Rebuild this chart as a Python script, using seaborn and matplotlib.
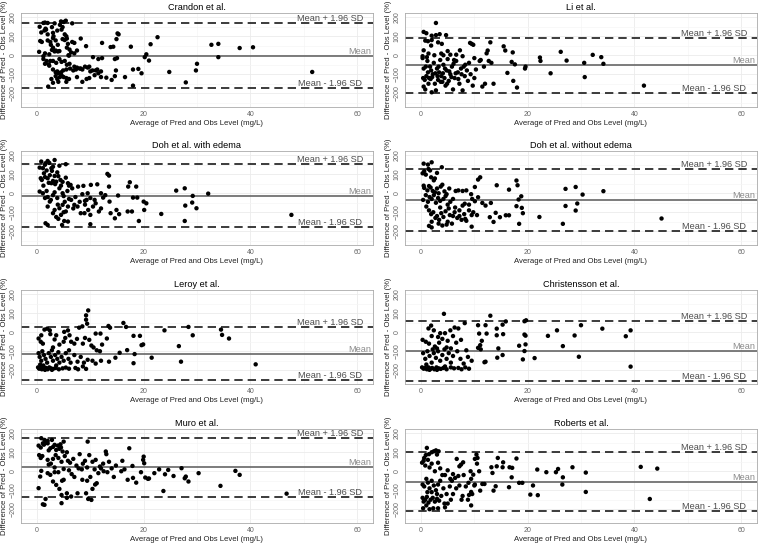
import numpy as np
import pandas as pd
import seaborn as sns
import matplotlib.pyplot as plt

# panel titles and limits of agreement
titles = ["Crandon et al.", "Li et al.", "Doh et al. with edema", "Doh et al. without edema",
          "Leroy et al.", "Christensson et al.", "Muro et al.", "Roberts et al."]
upper_loa = [170, 92, 154, 126, 28, 58, 177, 102]
mean_diff = [-2, -53, -12, -37, -112, -100, 23, -54]
lower_loa = [-174, -198, -179, -200, -249, -258, -135, -210]

# (average level mg/L, difference %)
crandon = [
    (1.2, 170), (1.5, 172), (2.0, 170), (3.3, 168), (4.5, 178), (5.4, 182), (5.0, 175), (6.6, 168), (0.5, 150), (1.6, 140),
    (4.3, 160), (4.8, 148), (2.8, 148), (0.8, 120), (1.4, 130), (2.0, 110), (3.0, 118), (3.8, 130), (4.6, 135), (5.2, 110),
    (5.5, 100), (3.1, 100), (1.7, 135), (0.6, 75), (2.0, 78), (2.5, 70), (3.5, 78), (3.9, 55), (4.8, 85), (5.2, 80),
    (5.6, 88), (6.6, 70), (7.0, 65), (8.2, 88), (3.0, 90), (5.8, 60), (2.6, 55), (0.9, 70), (0.4, 18), (1.5, 10),
    (2.3, 5), (3.0, 40), (3.5, 25), (3.9, 20), (4.2, 22), (5.6, 40), (6.1, 30), (6.4, 15), (7.0, 10), (7.5, 25),
    (9.2, 48), (2.8, 28), (3.3, 20), (5.9, 0), (1.2, -5), (6.0, -2), (1.2, -20), (1.8, -30), (2.5, -30), (3.0, -30),
    (4.2, -20), (4.6, -35), (5.2, -30), (5.6, -50), (6.1, -45), (3.6, -40), (1.5, -45), (2.2, -48), (10.5, -10), (11.5, -20),
    (12.2, -15), (2.3, -55), (3.0, -75), (3.8, -85), (4.5, -90), (4.9, -80), (5.5, -75), (6.2, -70), (7.0, -60), (7.5, -65),
    (8.0, -70), (8.5, -75), (9.0, -60), (9.5, -65), (10.0, -85), (10.4, -80), (11.0, -80), (11.5, -95), (12.0, -85), (6.8, -80),
    (7.3, -75), (8.2, -70), (9.8, -60), (11.3, -75), (3.5, -90), (4.0, -95), (3.5, -110), (3.8, -125), (4.0, -140), (4.3, -115),
    (4.6, -105), (5.0, -115), (5.5, -120), (6.0, -125), (7.5, -115), (8.5, -140), (9.3, -125), (9.8, -120), (10.8, -105), (12.0, -115),
    (13.0, -118), (14.0, -130), (16.5, -115), (5.5, -140), (3.0, -145), (2.7, -125), (2.1, -165), (18.0, -160), (12.2, 65), (13.8, 43),
    (14.3, 45), (14.6, -20), (15.0, -15), (15.1, 115), (15.3, 110), (14.9, 85), (14.8, -80), (14.6, -110), (17.6, 45), (18.0, -75),
    (19.0, -72), (19.6, -95), (20.2, -10), (20.5, 5), (21.0, -28), (21.3, 58), (22.6, 95), (24.8, -88), (27.9, -143), (29.8, -80),
    (30.0, -45), (32.7, 55), (34.0, 60), (34.0, -10), (38.0, 38), (40.5, 42), (51.6, -88),
]

li = [
    (0.3, -15), (0.5, -70), (0.7, -130), (0.5, -165), (0.8, -180), (1.0, -110), (1.2, -30), (1.3, -90), (1.5, -120), (1.7, -60),
    (1.8, -125), (2.0, -195), (2.2, -100), (2.4, -40), (2.6, -150), (2.8, -185), (3.0, -70), (3.2, -130), (3.4, -90), (3.6, -25),
    (3.8, -110), (4.0, -140), (4.2, -50), (4.4, -120), (4.6, -160), (4.8, -80), (5.0, -20), (5.2, -135), (5.5, -100), (5.8, -60),
    (6.0, -180), (6.3, -120), (6.6, -30), (6.9, -90), (7.2, -150), (7.5, -70), (7.8, -185), (8.2, -110), (8.6, -80), (9.0, -40),
    (9.3, -100), (9.7, -160), (10.0, -120), (10.3, -75), (10.0, -15), (9.5, 60), (9.8, 55), (9.2, 65), (11.5, -165), (11.8, -60),
    (12.0, -150), (12.3, 10), (12.5, 25), (12.7, -30), (13.0, 68), (13.2, -40), (13.6, -150), (11.0, -30), (11.2, -25), (15.5, 47),
    (15.8, 25), (16.2, -93), (17.0, -35), (17.2, 15), (17.3, -135), (17.6, -48), (18.0, -170), (19.5, -70), (19.6, -60), (22.3, -12),
    (22.4, -30), (24.3, -95), (26.2, 18), (27.3, -28), (30.6, -40), (30.7, -115), (32.2, 2), (33.8, -10), (34.2, -45), (41.8, -160),
    (2.8, 170), (0.5, 123), (1.0, 116), (2.8, 106), (3.5, 111), (4.7, 106), (2.0, 103), (0.8, 77), (1.3, 74), (2.0, 80),
    (3.2, 68), (3.9, 60), (1.9, 51), (0.5, 26), (1.4, 9), (3.8, 9), (5.0, 22), (5.5, 3), (6.6, 3), (7.3, 26),
    (0.3, -5), (1.1, -10), (2.5, 0), (4.2, 0), (6.2, -25), (7.8, -5), (8.3, -50), (0.4, -120), (0.9, -60), (1.4, -150),
    (1.9, -80), (2.1, -115), (2.7, -95), (3.1, -110), (3.3, -60), (3.7, -140), (4.1, -95), (4.5, -70), (4.9, -150), (5.3, -85),
    (5.7, -115), (6.1, -45), (6.5, -95), (7.0, -125), (7.6, -100), (8.0, -60), (8.8, -135),
]

doh_edema = [
    (0.8, 167), (1.6, 158), (2.0, 170), (3.3, 175), (4.2, 145), (5.4, 153), (0.5, 135), (1.1, 132), (2.7, 132), (1.3, 105),
    (2.8, 118), (3.3, 91), (0.7, 79), (0.9, 70), (2.0, 79), (5.4, 82), (4.4, 70), (3.6, 61), (2.7, 53), (5.8, 53),
    (6.3, 44), (7.7, 35), (8.7, 39), (10.1, 44), (11.3, 47), (13.2, 102), (13.5, 93), (13.5, 35), (17.1, 35), (17.4, 58),
    (18.6, 35), (1.5, 150), (2.3, 160), (3.0, 140), (1.8, 120), (2.4, 95), (3.8, 110), (4.0, 90), (1.5, 85), (3.0, 65),
    (4.8, 60), (2.2, 55), (3.4, 48), (4.5, 40), (6.0, 40), (1.2, 40), (0.5, 9), (1.1, 0), (1.8, 12), (3.3, 5),
    (4.2, 26), (4.8, 0), (5.7, 12), (6.6, 26), (8.5, -5), (9.5, 0), (12.0, 0), (12.4, -23), (15.2, -12), (18.0, -23),
    (18.8, -23), (20.0, -44), (20.5, -53), (26.1, 14), (27.7, 26), (29.2, -14), (29.1, -49), (27.8, -65), (29.9, -79), (32.1, -2),
    (23.3, -109), (47.7, -114), (2.0, -20), (3.0, -10), (3.8, -25), (5.0, -15), (6.0, -30), (7.2, -20), (8.0, -45), (9.0, -40),
    (10.0, -25), (10.8, -35), (12.8, -10), (1.5, -25), (2.6, -35), (2.4, -44), (2.0, -70), (3.0, -105), (3.3, -88), (4.2, -79),
    (4.5, -114), (4.8, -61), (5.4, -96), (5.8, -70), (6.4, -35), (7.0, -61), (7.6, -70), (8.2, -105), (8.9, -105), (9.3, -35),
    (9.6, -88), (10.0, -114), (11.0, -53), (11.6, -96), (13.6, -44), (13.8, -105), (14.6, -132), (14.9, -88), (15.4, -110), (17.0, -96),
    (17.8, -96), (19.1, -146), (20.1, -88), (3.6, -125), (4.0, -135), (5.0, -100), (6.8, -80), (9.0, -60), (10.5, -70), (12.0, -80),
    (3.9, -60), (5.2, -45), (1.6, -158), (2.0, -167), (4.7, -167), (5.1, -146), (5.8, -149), (10.0, -163), (27.7, -146),
]

doh_no_edema = [
    (0.5, 156), (1.3, 151), (2.0, 163), (0.6, 116), (0.9, 98), (1.4, 128), (1.7, 120), (3.0, 107), (3.9, 137), (1.9, 84),
    (2.4, 68), (0.3, 105), (2.6, 78), (0.5, 40), (0.6, 28), (1.2, 15), (1.5, 38), (1.8, 30), (2.2, 12), (2.6, 5),
    (3.0, 25), (3.3, 0), (3.7, 35), (4.0, 45), (4.4, 10), (4.8, -5), (5.3, 25), (6.5, 12), (7.0, 15), (7.8, 12),
    (8.5, 15), (10.1, 33), (9.4, -5), (0.4, -35), (0.9, -10), (1.3, -45), (1.6, -20), (2.0, -30), (2.4, -10), (2.8, -50),
    (3.2, -25), (3.6, -40), (4.2, -30), (4.6, -15), (5.0, -60), (5.5, -45), (6.0, -30), (6.4, -75), (7.2, -90), (7.8, -65),
    (8.2, -55), (9.0, -60), (9.6, -30), (10.1, -42), (10.7, -21), (11.5, -51), (12.1, -65), (13.1, -51), (12.9, -126), (13.6, -151),
    (14.0, -103), (14.8, -126), (15.9, -116), (16.5, -116), (1.0, -70), (1.5, -90), (1.9, -110), (2.3, -100), (2.7, -130), (3.0, -120),
    (3.4, -140), (3.8, -105), (4.2, -125), (4.6, -95), (5.0, -150), (5.4, -115), (5.8, -160), (6.3, -100), (6.8, -130), (7.2, -120),
    (7.6, -140), (8.1, -110), (8.5, -145), (9.0, -90), (9.5, -115), (9.8, -100), (10.5, -115), (3.3, -160), (4.0, -170), (4.8, -165),
    (2.0, -150), (8.3, -135), (6.0, -120), (5.2, -80), (3.6, -75), (1.5, -172), (2.0, -180), (9.5, -176), (11.1, 84), (10.7, 72),
    (14.2, 42), (16.5, 19), (17.9, 67), (18.1, 42), (18.3, -33), (18.8, -16), (17.9, -68), (18.9, -77), (19.1, -105), (18.4, -161),
    (22.2, -125), (26.6, -161), (27.1, 23), (27.1, -67), (29.0, 33), (29.3, -54), (29.0, -91), (30.3, -7), (34.2, 11), (45.1, -133),
]

leroy = [
    (9.6, 115), (9.2, 89), (9.4, 45), (9.2, 66), (7.9, 24), (8.5, 31), (11.0, -7), (11.9, -7), (13.1, -33), (13.4, 33),
    (13.7, 24), (16.2, 49), (16.7, 28), (18.1, -19), (19.3, -19), (19.9, -64), (19.6, -68), (16.9, -94), (15.5, -108), (14.7, -134),
    (13.5, -155), (18.3, -115), (18.1, -163), (21.5, -134), (23.9, 10), (26.6, -73), (27.0, -155), (28.4, 28), (29.2, -16), (34.5, 14),
    (34.7, -14), (36.0, -33), (41.0, -169), (0.3, -33), (0.7, -50), (1.1, -60), (1.4, 14), (1.9, 19), (2.4, 10), (0.8, -16),
    (2.5, -10), (3.3, -38), (3.6, -16), (5.1, 2), (5.8, 10), (6.1, -16), (5.0, -50), (6.4, -50), (7.0, -60), (9.8, -40),
    (10.2, -70), (10.6, -80), (11.2, -95), (11.8, -100), (8.6, -60), (9.0, -30), (12.2, -65), (3.0, -80), (4.2, -65), (5.3, -30),
    (7.5, -35), (0.3, -110), (0.5, -130), (0.8, -150), (1.0, -100), (1.3, -120), (1.6, -140), (1.9, -160), (2.2, -110), (2.6, -130),
    (3.0, -150), (3.4, -120), (3.8, -140), (4.2, -160), (4.6, -130), (5.0, -150), (5.4, -110), (5.9, -140), (6.3, -160), (7.0, -120),
    (7.6, -155), (8.2, -130), (8.8, -160), (9.5, -145), (10.4, -150), (11.0, -165), (12.0, -150), (2.8, -95), (4.0, -105), (6.0, -95),
    (0.6, -170), (1.2, -175), (3.6, -175), (0.2, -185), (0.4, -192), (0.7, -188), (0.9, -195), (1.1, -185), (1.4, -192), (1.7, -188),
    (2.0, -195), (2.3, -185), (2.6, -190), (3.0, -193), (3.5, -188), (4.1, -195), (4.8, -190), (5.4, -186), (6.0, -192), (7.2, -188),
    (7.7, -195), (8.6, -180), (9.2, -193), (1.5, -198), (2.8, -198),
]

christensson = [
    (4.3, 97), (13.0, 87), (19.7, 63), (19.4, 58), (15.9, 57), (15.3, 40), (14.2, 19), (14.2, -16), (15.4, -10), (14.5, -85),
    (14.3, -134), (15.3, -120), (12.1, 37), (12.3, -7), (10.7, 37), (10.9, -7), (11.1, -68), (11.4, -45), (10.7, -82), (11.2, -90),
    (12.1, -155), (11.9, -158), (18.4, -71), (19.4, -12), (19.6, -18), (19.6, -64), (19.4, -99), (19.1, -143), (21.3, -136), (23.8, -19),
    (25.5, 10), (26.6, -73), (28.8, -17), (29.6, -129), (30.0, 37), (34.0, 19), (38.4, -21), (39.3, 10), (39.3, -181), (8.2, 48),
    (7.0, 20), (6.3, 25), (5.5, 10), (4.5, -5), (3.6, -5), (2.4, 10), (1.9, 35), (1.4, 20), (2.0, -20), (3.2, -25),
    (4.0, -35), (5.0, -45), (6.0, -20), (7.5, -40), (0.3, -40), (0.9, -50), (1.5, -60), (2.6, -75), (3.4, -55), (4.8, -80),
    (5.6, -85), (6.6, -55), (8.5, -95), (9.5, -150), (0.4, -110), (0.8, -140), (1.2, -100), (1.6, -125), (2.0, -160), (2.4, -110),
    (2.8, -135), (3.2, -100), (3.6, -150), (4.0, -120), (4.4, -90), (4.8, -140), (5.2, -110), (5.6, -160), (6.0, -125), (6.8, -100),
    (7.4, -140), (8.0, -165), (8.8, -130), (2.2, -90), (3.0, -85), (1.0, -170), (0.2, -185), (0.5, -192), (0.8, -188), (1.1, -195),
    (1.4, -185), (1.8, -192), (2.1, -188), (2.5, -195), (2.9, -185), (3.3, -190), (3.7, -193), (4.2, -188), (4.8, -195), (5.6, -185),
    (6.2, -190), (7.0, -188), (7.6, -195), (8.3, -185), (9.0, -192), (1.6, -198), (3.0, -198), (4.5, -180),
]

muro = [
    (0.8, 174), (1.4, 165), (2.0, 160), (2.8, 165), (0.3, 135), (0.7, 125), (1.1, 147), (1.3, 140), (2.0, 147), (2.5, 121),
    (3.3, 139), (3.9, 135), (4.4, 142), (4.5, 125), (5.0, 156), (3.6, 112), (4.8, 104), (9.5, 156), (12.9, 104), (17.3, 121),
    (20.0, 77), (19.9, 60), (20.1, 42), (1.6, 150), (3.0, 128), (4.2, 118), (5.6, 100), (2.2, 110), (0.4, 85), (0.7, 70),
    (1.0, 80), (2.0, 60), (2.6, 40), (3.0, 65), (3.5, 85), (4.0, 70), (4.6, 50), (5.2, 80), (5.8, 55), (6.2, 45),
    (6.8, 65), (7.4, 30), (8.0, 90), (8.6, 40), (9.0, 55), (9.8, 85), (10.4, 50), (11.0, 60), (11.8, 25), (12.4, 40),
    (13.0, 90), (13.5, 50), (14.0, 15), (14.8, 30), (16.0, 55), (16.4, 10), (17.9, 28), (7.8, 15), (8.4, 10), (9.4, 20),
    (6.0, 5), (3.3, 20), (2.2, 35), (12.0, 15), (10.8, 10), (5.0, 12), (4.0, -5), (0.3, -89), (0.6, -28), (0.8, 2),
    (2.5, -19), (3.0, -54), (3.3, -5), (3.6, -72), (4.2, -93), (4.7, -50), (4.6, -125), (5.6, -116), (6.4, -133), (7.6, -116),
    (9.2, -116), (9.6, -146), (10.2, -151), (10.4, -93), (11.2, -63), (10.9, -70), (2.0, -10), (5.0, -45), (6.5, -15), (7.0, -30),
    (8.5, -45), (9.4, -50), (10.0, -30), (11.5, -10), (12.5, 0), (13.2, -5), (14.4, -30), (15.8, 0), (17.0, -45), (18.0, -35),
    (18.6, -60), (19.5, -5), (1.1, -174), (1.4, -177), (1.6, -146), (4.6, -168), (5.6, -140), (23.7, -104), (34.4, -77), (46.8, -118),
    (20.3, -33), (20.8, -40), (22.9, 10), (24.0, -16), (24.6, 7), (25.6, -25), (27.1, 16), (27.7, -37), (27.9, -28), (28.4, -54),
    (30.3, -10), (37.2, 2), (38.0, -19), (22.0, -10), (21.0, -38),
]

roberts = [
    (1.1, 123), (2.4, 105), (2.8, 110), (3.3, 105), (2.0, 100), (0.6, 70), (3.0, 88), (1.5, 90), (0.9, 85), (6.7, 65),
    (7.9, 47), (7.5, 35), (7.2, 26), (10.1, 65), (10.4, 88), (10.6, 70), (10.5, 40), (9.3, 0), (10.9, 0), (11.5, -67),
    (11.9, -67), (11.1, -102), (9.8, -18), (10.1, -70), (9.4, -109), (8.9, -61), (14.2, 26), (14.4, 70), (15.4, 47), (15.3, 21),
    (13.2, 21), (13.4, -9), (14.0, -79), (13.6, -102), (16.5, -84), (16.6, 21), (17.1, 18), (17.0, -32), (17.9, 67), (18.4, -61),
    (19.0, -61), (20.5, -123), (21.0, -75), (21.8, 9), (21.9, -126), (23.5, -5), (25.3, -5), (25.7, 12), (26.6, -32), (26.5, -70),
    (28.4, 21), (30.9, -7), (30.9, -109), (41.2, 23), (42.9, -146), (44.3, 14), (0.2, 45), (0.5, 55), (0.8, 30), (1.3, 60),
    (1.6, 20), (2.0, 40), (2.6, 0), (3.2, 45), (3.6, 15), (4.0, -20), (4.5, -20), (5.0, 5), (5.5, -40), (6.0, -15),
    (6.4, -35), (7.0, -25), (8.0, -20), (9.4, -40), (5.8, -50), (0.3, -70), (0.6, -80), (1.0, -40), (1.3, -60), (1.6, -90),
    (2.0, -50), (2.4, -75), (2.8, -100), (3.2, -70), (3.6, -50), (4.2, -90), (4.8, -120), (5.4, -80), (6.0, -120), (6.6, -90),
    (7.2, -75), (7.8, -130), (8.4, -80), (9.0, -125), (9.6, -120), (10.0, -75), (0.3, -140), (0.5, -160), (0.8, -150), (1.1, -135),
    (1.4, -165), (1.8, -150), (2.2, -140), (2.6, -160), (3.0, -145), (3.4, -155), (3.8, -130), (4.4, -170), (5.0, -170), (5.6, -150),
    (7.6, -150), (8.8, -150), (9.4, -180), (2.0, -110), (1.2, -110), (3.0, -120), (0.4, -195), (1.0, -180), (1.6, -200), (2.3, -195),
    (3.2, -195), (4.5, -190),
]

panels = [crandon, li, doh_edema, doh_no_edema, leroy, christensson, muro, roberts]

sns.set_style("white")
plt.rcParams['font.family'] = ['Liberation Sans', 'DejaVu Sans']

fig = plt.figure(figsize=(7.6, 5.43), dpi=100)
W, H = 760, 543
col_left = [21, 405]
row_top = [13, 151, 290, 429]
pw, ph = 352, 94

dash = (0, (5, 3))
for i, (name, pts) in enumerate(zip(titles, panels)):
    r, c = divmod(i, 2)
    ax = fig.add_axes([col_left[c] / W, 1 - (row_top[r] + ph) / H, pw / W, ph / H])
    df = pd.DataFrame(pts, columns=["avg", "diff"])

    ax.set_xlim(-3, 63)
    ax.set_ylim(-272.5, 222.5)
    ax.set_xticks([0, 20, 40, 60])
    ax.set_xticks([10, 30, 50], minor=True)
    ax.set_yticks([-200, -100, 0, 100, 200])
    ax.set_yticks([-250, -150, -50, 50, 150], minor=True)
    ax.grid(which="major", color="#ebebeb", lw=0.6)
    ax.grid(which="minor", color="#f5f5f5", lw=0.5)
    ax.set_axisbelow(True)

    ax.axhline(upper_loa[i], color="#1a1a1a", lw=1.2, ls=dash, zorder=1)
    ax.axhline(mean_diff[i], color="#666666", lw=1.2, zorder=1)
    ax.axhline(lower_loa[i], color="#1a1a1a", lw=1.2, ls=dash, zorder=1)

    sns.scatterplot(data=df, x="avg", y="diff", ax=ax, color="black", s=10,
                    edgecolor="none", linewidth=0, zorder=3)

    ax.text(55, upper_loa[i], "Mean + 1.96 SD", ha="center", va="bottom",
            color="#4d4d4d", fontsize=6.6, zorder=2)
    ax.text(60.5, mean_diff[i], "Mean", ha="center", va="bottom",
            color="#8c8c8c", fontsize=6.6, zorder=2)
    ax.text(55, lower_loa[i], "Mean - 1.96 SD", ha="center", va="bottom",
            color="#4d4d4d", fontsize=6.6, zorder=2)

    ax.set_title(name, fontsize=6.6, pad=2, color="black")
    ax.set_xlabel("Average of Pred and Obs Level (mg/L)", fontsize=5.6, labelpad=1, color="#222222")
    ax.set_ylabel("Difference of Pred - Obs Level (%)", fontsize=5.6, labelpad=1, color="#222222")
    ax.tick_params(axis="both", which="major", length=2, width=0.5, color="#888888",
                   labelsize=5, labelcolor="#666666", pad=1)
    ax.tick_params(axis="both", which="minor", length=0)
    for t in ax.get_yticklabels():
        t.set_rotation(90)
        t.set_va("center")
    for s in ax.spines.values():
        s.set_color("#aaaaaa")
        s.set_linewidth(0.6)

fig.savefig("out.png", dpi=100)
